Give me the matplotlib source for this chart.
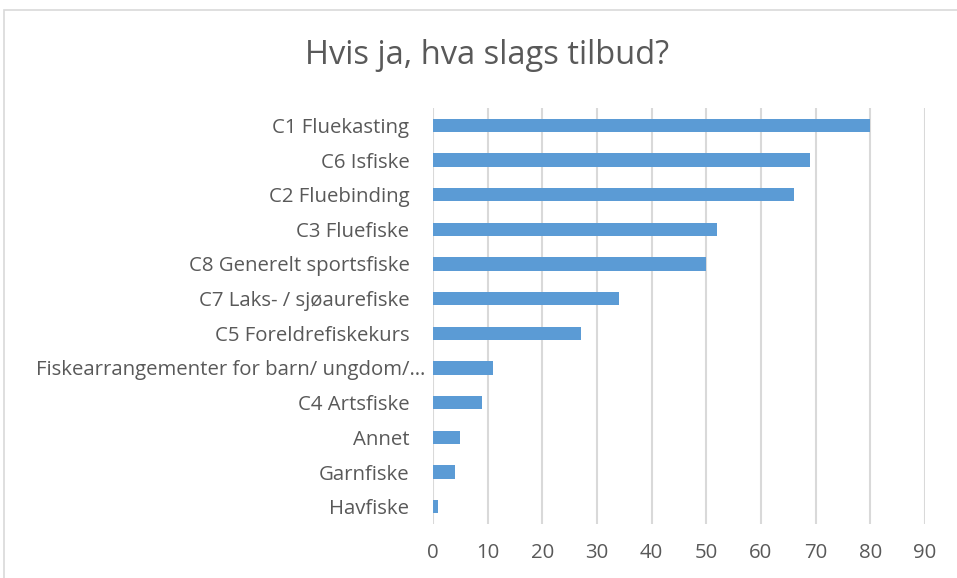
import matplotlib.pyplot as plt
import matplotlib.transforms as mtransforms
from matplotlib.patches import Rectangle

plt.rcParams['font.family'] = ['Open Sans', 'DejaVu Sans']

# Data
categories = ['C1 Fluekasting', 'C6 Isfiske', 'C2 Fluebinding', 'C3 Fluefiske',
              'C8 Generelt sportsfiske', 'C7 Laks- / sjøaurefiske', 'C5 Foreldrefiskekurs',
              'Fiskearrangementer for barn/ ungdom/…', 'C4 Artsfiske', 'Annet',
              'Garnfiske', 'Havfiske']
values = [80, 69, 66, 52, 50, 34, 27, 11, 9, 5, 4, 1]
x_ticks = [0, 10, 20, 30, 40, 50, 60, 70, 80, 90]

W, H = 957, 578
fig = plt.figure(figsize=(W / 100, H / 100), dpi=100)
fig.patch.set_facecolor('white')

# chart area border (only left/top visible in the crop)
fig.patches.append(Rectangle((4 / W, -0.05), 1.2, (H - 10) / H + 0.05,
                             transform=fig.transFigure, fill=False,
                             edgecolor='#d9d9d9', linewidth=1.2))

ax = fig.add_axes([433 / W, 1 - 524 / H, (925 - 433) / W, (524 - 108) / H])

pos = list(range(len(categories)))
ax.barh(pos, values, height=0.38, color='#5b9bd5', zorder=3)

ax.set_xlim(0, 90)
ax.set_ylim(len(categories) - 0.5, -0.5)
ax.set_xticks(x_ticks)
ax.set_yticks(pos)
ax.set_yticklabels(categories)
ax.grid(axis='x', color='#d9d9d9', linewidth=1.5, zorder=0)
for s in ax.spines.values():
    s.set_visible(False)
ax.tick_params(axis='both', length=0, labelsize=14.7, labelcolor='#595959')
ax.tick_params(axis='y', pad=17)
ax.tick_params(axis='x', pad=14)

# truncated label sits a bit further right, as in Excel
lbl = ax.get_yticklabels()[7]
lbl.set_transform(lbl.get_transform() +
                  mtransforms.ScaledTranslation(16 / 100, 0, fig.dpi_scale_trans))

fig.text(487 / W, 1 - 55 / H, 'Hvis ja, hva slags tilbud?', ha='center', va='center',
         fontsize=23.5, color='#595959')

fig.savefig('out.png', dpi=100, facecolor='white')
